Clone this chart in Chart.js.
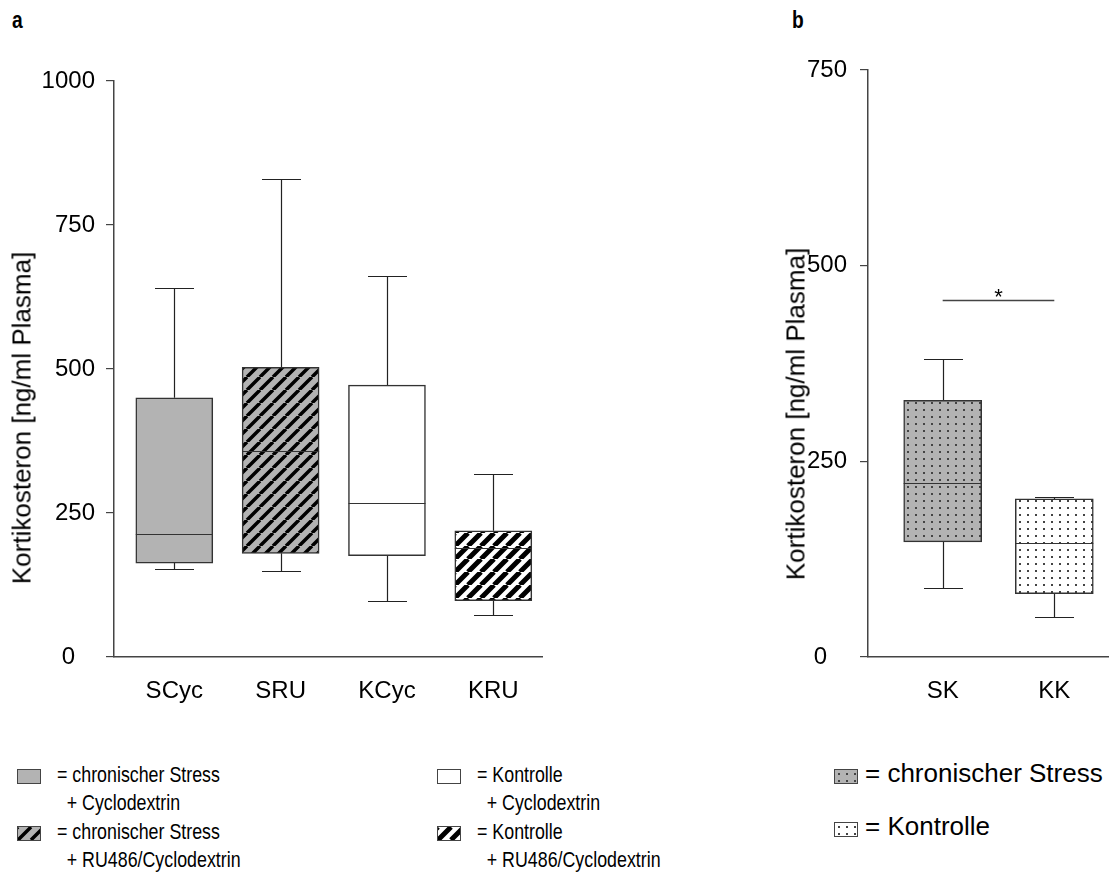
<!DOCTYPE html>
<html>
<head>
<meta charset="utf-8">
<script src="https://cdn.jsdelivr.net/npm/chart.js@4.4.0/dist/chart.umd.min.js"></script>
<style>
  body { margin: 0; background: #fff; }
  #page { position: relative; width: 1112px; height: 892px; overflow: hidden; font-family: "Liberation Sans", Arial, sans-serif; color: #000; }
  canvas.chart { position: absolute; top: 0; }
  .panel { position: absolute; top: 6px; font-weight: bold; font-size: 24px; transform: scaleX(0.8); transform-origin: left top; }
  .ytitle { position: absolute; white-space: nowrap; font-size: 26px; transform: translate(-50%, -50%) rotate(-90deg); }
  .leg { position: absolute; display: flex; align-items: flex-start; }
  .leg canvas { border: 1px solid #444; margin-top: 1px; flex: none; }
  .leg .txt { line-height: 28px; margin-top: -7px; white-space: nowrap; }
  .leg .txt div + div { padding-left: 12px; }
  .narrow .txt { font-size: 22px; margin-left: 16px; transform: scaleX(0.81); transform-origin: left top; }
  .wide .txt { font-size: 26px; margin-left: 7px; margin-top: -9px; }
</style>
</head>
<body>
<div id="page">
  <div class="panel" style="left:12px">a</div>
  <div class="panel" style="left:792px">b</div>
  <canvas id="chartA" class="chart" width="560" height="730" style="left:0"></canvas>
  <canvas id="chartB" class="chart" width="352" height="730" style="left:760px"></canvas>
  <div class="ytitle" style="left:22px;top:418px">Kortikosteron [ng/ml Plasma]</div>
  <div class="ytitle" style="left:796px;top:414px">Kortikosteron [ng/ml Plasma]</div>
  <div id="legend"></div>
</div>
<script>
// Panel a: four groups (min, quartiles, median, max)
const labelsA = ['SCyc', 'SRU', 'KCyc', 'KRU'];
const minA = [153, 149, 98, 73];
const q1A = [163, 180, 176, 98];
const medA = [213, 357, 268, 190];
const q3A = [450, 503, 472, 219];
const maxA = [641, 830, 662, 318];
const yTicksA = [0, 250, 500, 750, 1000];

// Panel b: two groups
const labelsB = ['SK', 'KK'];
const minB = [88, 51];
const q1B = [147, 81];
const medB = [222, 146];
const q3B = [328, 202];
const maxB = [381, 204];
const yTicksB = [0, 250, 500, 750];

// Significance bar between SK and KK
const sigFrom = 1;
const sigTo = 2;
const sigValue = 456;
const sigText = '*';

const GRAY = '#b3b3b3';
const INK = '#333';

// Fill patterns
function hatch(bg, width) {
  const s = 13;
  const c = document.createElement('canvas');
  c.width = s; c.height = s;
  const g = c.getContext('2d');
  g.fillStyle = bg;
  g.fillRect(0, 0, s, s);
  g.strokeStyle = '#000';
  g.lineWidth = width;
  g.beginPath();
  for (let k = -1; k <= 1; k++) {
    g.moveTo(k * s, s);
    g.lineTo(k * s + s, 0);
  }
  g.stroke();
  return g.createPattern(c, 'repeat');
}

function dots(bg) {
  const c = document.createElement('canvas');
  c.width = 8; c.height = 7;
  const g = c.getContext('2d');
  g.fillStyle = bg;
  g.fillRect(0, 0, c.width, c.height);
  g.fillStyle = '#444';
  g.fillRect(3, 3, 2, 2);
  return g.createPattern(c, 'repeat');
}

const fills = {
  gray: GRAY,
  white: '#fff',
  grayHatch: hatch(GRAY, 3.5),
  whiteHatch: hatch('#fff', 5),
  grayDots: dots(GRAY),
  whiteDots: dots('#fff'),
};
const fillsA = [fills.gray, fills.grayHatch, fills.white, fills.whiteHatch];
const fillsB = [fills.grayDots, fills.whiteDots];

// Whiskers, caps, medians and the significance bar, drawn through the chart scales
function boxPlugin(stats) {
  return {
    id: 'boxWhiskers',
    beforeDatasetsDraw(chart) {
      const { ctx, scales: { x, y } } = chart;
      ctx.save();
      ctx.strokeStyle = '#222';
      ctx.lineWidth = 1.2;
      stats.min.forEach((lo, i) => {
        const cx = Math.round(x.getPixelForValue(i + 1)) + 0.5;
        const half = stats.capWidth / 2;
        [[stats.q1[i], lo], [stats.q3[i], stats.max[i]]].forEach(([from, to]) => {
          const yTo = Math.round(y.getPixelForValue(to)) + 0.5;
          ctx.beginPath();
          ctx.moveTo(cx, y.getPixelForValue(from));
          ctx.lineTo(cx, yTo);
          ctx.moveTo(cx - half, yTo);
          ctx.lineTo(cx + half, yTo);
          ctx.stroke();
        });
      });
      ctx.restore();
    },
    afterDatasetsDraw(chart) {
      const { ctx, scales: { x, y } } = chart;
      ctx.save();
      ctx.strokeStyle = INK;
      ctx.lineWidth = 1.2;
      stats.med.forEach((m, i) => {
        const cx = x.getPixelForValue(i + 1);
        const ym = Math.round(y.getPixelForValue(m)) + 0.5;
        ctx.beginPath();
        ctx.moveTo(cx - stats.boxWidth / 2, ym);
        ctx.lineTo(cx + stats.boxWidth / 2, ym);
        ctx.stroke();
      });
      if (stats.sig) {
        const ys = Math.round(y.getPixelForValue(stats.sig.value)) + 0.5;
        ctx.strokeStyle = '#444';
        ctx.lineWidth = 1.5;
        ctx.beginPath();
        ctx.moveTo(x.getPixelForValue(stats.sig.from), ys);
        ctx.lineTo(x.getPixelForValue(stats.sig.to), ys);
        ctx.stroke();
        ctx.fillStyle = '#000';
        ctx.font = '22px "Liberation Sans", Arial, sans-serif';
        ctx.textAlign = 'center';
        ctx.textBaseline = 'alphabetic';
        ctx.fillText(stats.sig.text, x.getPixelForValue((stats.sig.from + stats.sig.to) / 2), ys + 3);
      }
      ctx.restore();
    },
  };
}

Chart.defaults.font.family = '"Liberation Sans", Arial, sans-serif';
Chart.defaults.color = '#000';

function makeChart(canvas, cfg) {
  return new Chart(canvas, {
    type: 'bar',
    data: {
      datasets: [{
        data: cfg.q1.map((lo, i) => ({ x: i + 1, y: [lo, cfg.q3[i]] })),
        backgroundColor: cfg.fills,
        borderColor: INK,
        borderWidth: 1.5,
        borderSkipped: false,
        barThickness: cfg.boxWidth,
      }],
    },
    options: {
      responsive: false,
      animation: false,
      events: [],
      layout: { padding: { top: cfg.top, right: cfg.right, left: 0, bottom: 0 } },
      plugins: { legend: { display: false }, tooltip: { enabled: false } },
      scales: {
        x: {
          type: 'linear',
          offset: false,
          min: cfg.xMin,
          max: cfg.xMax,
          afterBuildTicks: (s) => { s.ticks = cfg.labels.map((_, i) => ({ value: i + 1 })); },
          afterFit: (s) => { s.height = 73; },
          grid: { display: true, offset: false, drawOnChartArea: false, drawTicks: false },
          border: { color: '#444', width: 1.5 },
          ticks: { padding: 20, font: { size: 24 }, callback: (v) => cfg.labels[v - 1] },
        },
        y: {
          min: 0,
          max: cfg.yTicks[cfg.yTicks.length - 1],
          afterBuildTicks: (s) => { s.ticks = cfg.yTicks.map((v) => ({ value: v })); },
          afterFit: (s) => { s.width = cfg.axisX; },
          grid: { drawOnChartArea: false, drawTicks: true, tickLength: 8, color: '#444', lineWidth: 1.2 },
          border: { color: '#444', width: 1.5 },
          ticks: { padding: cfg.tickPad, font: { size: 24 }, callback: (v) => (v === 0 ? '0   ' : String(v)) },
        },
      },
    },
    plugins: [boxPlugin(cfg)],
  });
}

makeChart(document.getElementById('chartA'), {
  labels: labelsA, min: minA, q1: q1A, med: medA, q3: q3A, max: maxA, yTicks: yTicksA,
  fills: fillsA, boxWidth: 77, capWidth: 39,
  top: 81, right: 18, axisX: 114, tickPad: 11, xMin: 0.433, xMax: 4.458,
});

makeChart(document.getElementById('chartB'), {
  labels: labelsB, min: minB, q1: q1B, med: medB, q3: q3B, max: maxB, yTicks: yTicksB,
  fills: fillsB, boxWidth: 78, capWidth: 39,
  sig: { from: sigFrom, to: sigTo, value: sigValue, text: sigText },
  top: 70, right: 4, axisX: 108, tickPad: 13, xMin: 0.331, xMax: 2.481,
});

// Legend (HTML text with small pattern swatches)
const legendItems = [
  { fill: fills.gray, cls: 'narrow', lines: ['= chronischer Stress', '+ Cyclodextrin'], x: 17, y: 768 },
  { fill: fills.grayHatch, cls: 'narrow', lines: ['= chronischer Stress', '+ RU486/Cyclodextrin'], x: 17, y: 825 },
  { fill: fills.white, cls: 'narrow', lines: ['= Kontrolle', '+ Cyclodextrin'], x: 437, y: 768 },
  { fill: fills.whiteHatch, cls: 'narrow', lines: ['= Kontrolle', '+ RU486/Cyclodextrin'], x: 437, y: 825 },
  { fill: fills.grayDots, cls: 'wide', lines: ['= chronischer Stress'], x: 834, y: 768 },
  { fill: fills.whiteDots, cls: 'wide', lines: ['= Kontrolle'], x: 834, y: 821 },
];

const legend = document.getElementById('legend');
legendItems.forEach((item) => {
  const row = document.createElement('div');
  row.className = 'leg ' + item.cls;
  row.style.left = item.x + 'px';
  row.style.top = item.y + 'px';
  const sw = document.createElement('canvas');
  sw.width = 22; sw.height = 13;
  const g = sw.getContext('2d');
  g.fillStyle = item.fill;
  g.fillRect(0, 0, sw.width, sw.height);
  row.appendChild(sw);
  const txt = document.createElement('div');
  txt.className = 'txt';
  item.lines.forEach((line) => {
    const d = document.createElement('div');
    d.textContent = line;
    txt.appendChild(d);
  });
  row.appendChild(txt);
  legend.appendChild(row);
});
</script>
</body>
</html>
